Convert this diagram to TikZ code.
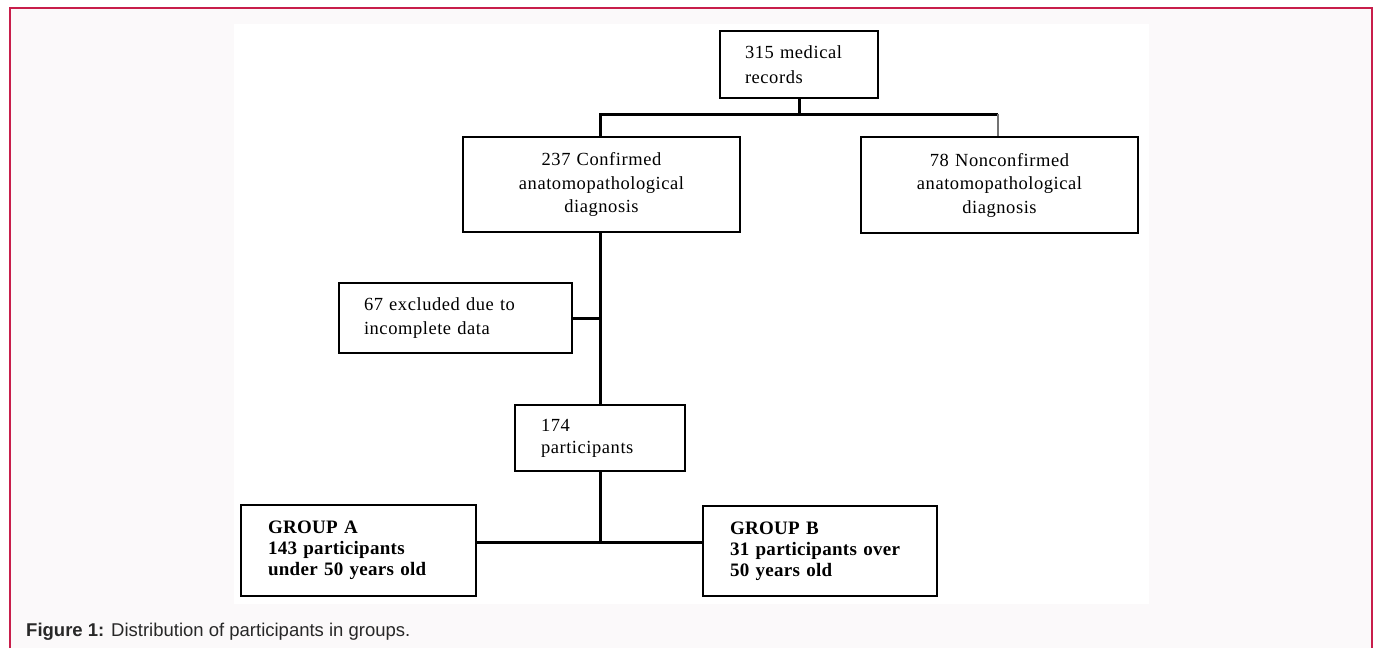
\documentclass[tikz,border=0pt]{standalone}
\usepackage{fontspec}
\setmainfont{Liberation Serif}
\newfontfamily\boxfont{Liberation Serif}[LetterSpace=3]
\newfontfamily\grpfont{Liberation Serif}[LetterSpace=1.5]
\newfontfamily\capfont{Liberation Sans}
\definecolor{framered}{RGB}{200,30,75}
\definecolor{pagebg}{RGB}{251,249,250}
\definecolor{captext}{RGB}{40,40,40}
\tikzset{
  box/.style={draw=black, line width=2.3pt, inner xsep=0pt, inner ysep=0pt},
  regtext/.style={font=\boxfont\fontsize{18.5}{23.5}\selectfont},
  grptext/.style={font=\grpfont\bfseries\fontsize{19}{21}\selectfont},
  conn/.style={draw=black, line width=3pt},
  connthin/.style={draw=black!55, line width=1.8pt},
}
\begin{document}
\begin{tikzpicture}[x=1pt,y=-1pt]
\useasboundingbox (0,0) rectangle (1378,648);
\fill[white] (0,0) rectangle (1378,648);
\fill[pagebg] (10,8) rectangle (1372,648);
\draw[framered, line width=1.6pt] (10,648) -- (10,8) -- (1372,8) -- (1372,648);
\fill[white] (234,24) rectangle (1149,604);

% boxes
\node[box, regtext, minimum width=158pt, minimum height=67pt, text width=108pt, align=left,
      font=\boxfont\fontsize{18.5}{25}\selectfont] (rec) at (799,64.5) {315 medical\\records};
\node[box, regtext, minimum width=277pt, minimum height=95pt, text width=260pt, align=center] (conf) at (601.5,184.5)
  {237 Confirmed\\anatomopathological\\diagnosis};
\node[box, regtext, minimum width=277pt, minimum height=96pt, text width=260pt, align=center] (nonconf) at (999.5,185)
  {78 Nonconfirmed\\anatomopathological\\diagnosis};
\node[box, regtext, minimum width=233pt, minimum height=70pt, text width=183pt, align=left] (excl) at (455.5,318)
  {67 excluded due to\\incomplete data};
\node[box, regtext, minimum width=170pt, minimum height=66pt, text width=118pt, align=left,
      font=\boxfont\fontsize{18.5}{22}\selectfont] (part) at (600,438)
  {174\\participants};
\node[box, grptext, minimum width=235pt, minimum height=91pt, text width=181pt, align=left] (ga) at (358.5,550.5)
  {GROUP A\\143 participants\\under 50 years old};
\node[box, grptext, minimum width=234pt, minimum height=90pt, text width=180pt, align=left] (gb) at (820,551)
  {GROUP B\\31 participants over\\50 years old};

% junctions
\coordinate (top) at (600,114);
\coordinate (topR) at (998,114);
\coordinate (bot) at (600,542);

% connectors
\draw[conn] (rec.south) -- (rec.south |- top);
\draw[conn] (conf.north -| top) -- (top) -- (topR);
\draw[connthin] (topR) -- (topR |- nonconf.north);
\draw[conn] (conf.south -| top) -- (part.north -| top);
\draw[conn] (excl.east) -- (excl.east -| top);
\draw[conn] (part.south -| bot) -- (bot);
\draw[conn] (ga.east |- bot) -- (gb.west |- bot);

% caption
\node[anchor=base west, inner sep=0pt, text=captext, font=\capfont\fontsize{18.5}{20}\selectfont] (cap) at (26,636.5)
  {\textbf{Figure 1:} Distribution of participants in groups.};
\end{tikzpicture}
\end{document}
